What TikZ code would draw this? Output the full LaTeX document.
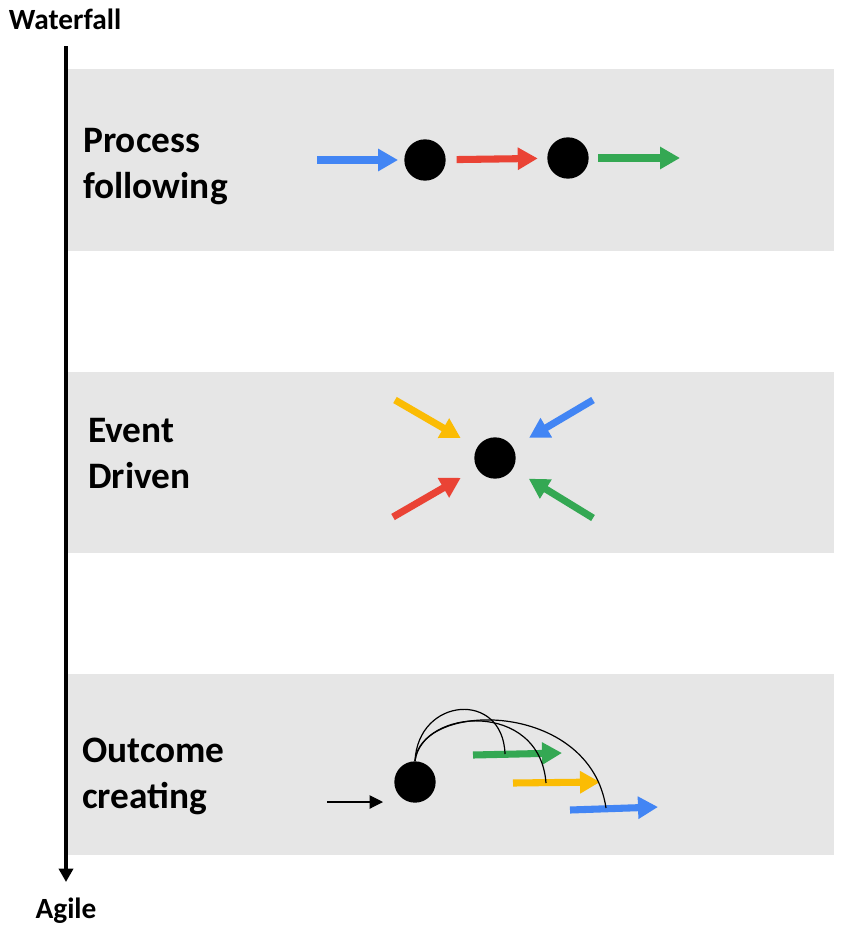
\documentclass[tikz,border=0pt]{standalone}
\usepackage{fontspec}
\setmainfont{Carlito}
\usetikzlibrary{arrows.meta}

\definecolor{gblue}{RGB}{66,133,244}
\definecolor{gred}{RGB}{234,67,53}
\definecolor{gyellow}{RGB}{251,188,4}
\definecolor{ggreen}{RGB}{52,168,83}
\definecolor{band}{RGB}{230,230,230}

\tikzset{
	flow/.style={line width=5.3pt, -{Triangle[length=15pt,width=16pt]}},
	dot/.style={circle, fill=black, inner sep=0pt, minimum size=31pt},
	lbl/.style={font=\bfseries\fontsize{28}{34.5}\selectfont, align=left, anchor=base west, inner sep=0pt},
	axislbl/.style={font=\bfseries\fontsize{22}{26}\selectfont, anchor=base, inner sep=0pt}
}

\begin{document}
\begin{tikzpicture}[x=0.75pt,y=-0.75pt]
	\useasboundingbox (0,0) rectangle (842,935);
	\fill[band] (68,69) rectangle (834,251);
	\fill[band] (68,372) rectangle (834,553);
	\fill[band] (68,674) rectangle (834,855);

	% axis
	\node[axislbl] (wf) at (65,29) {Waterfall};
	\node[axislbl] (ag) at (66,918) {Agile};
	\coordinate (top) at (66,46);
	\coordinate (bot) at (66,882);
	\draw[line width=3pt, -{Triangle[length=10pt,width=10.5pt]}] (top) -- (bot);

	% process following
	\node[lbl] (pf) at (83,198) {Process\\following};
	\node[dot] (p1) at (425,160) {};
	\node[dot] (p2) at (568,158) {};
	\coordinate (pin) at (317,160);
	\coordinate (pout) at (680,158);
	\draw[flow, gblue, shorten >=4.5pt] (pin) -- (p1);
	\draw[flow, gred, shorten <=8pt, shorten >=7pt] (p1) -- (p2);
	\draw[flow, ggreen, shorten <=7pt] (p2) -- (pout);

	% event driven
	\node[lbl] (ed) at (88,488) {Event\\Driven};
	\node[dot] (ev) at (495,458) {};
	\coordinate (eyl) at (395,400);
	\coordinate (ebl) at (593,400);
	\coordinate (erd) at (393,517);
	\coordinate (egr) at (593,518);
	\draw[flow, gyellow, shorten >=14pt] (eyl) -- (ev);
	\draw[flow, gblue, shorten >=14pt] (ebl) -- (ev);
	\draw[flow, gred, shorten >=14pt] (erd) -- (ev);
	\draw[flow, ggreen, shorten >=14pt] (egr) -- (ev);

	% outcome creating
	\node[lbl] (oc) at (82,808) {Outcome\\creating};
	\node[dot] (out) at (415,782) {};
	\coordinate (oin) at (327,802);
	\coordinate (oend) at (383,802);
	\draw[line width=0.8pt, -{Triangle[length=10pt,width=10pt]}] (oin) -- (oend);
	\coordinate (g1) at (473,755);
	\coordinate (g2) at (562,753);
	\coordinate (y1) at (513,783);
	\coordinate (y2) at (600,782);
	\coordinate (b1) at (570,810);
	\coordinate (b2) at (658,807);
	\draw[flow, ggreen] (g1) -- (g2);
	\draw[flow, gyellow] (y1) -- (y2);
	\draw[flow, gblue] (b1) -- (b2);
	\coordinate (gm) at (505,754);
	\coordinate (ym) at (546,783);
	\coordinate (bm) at (606,808);
	\draw[line width=0.9pt] (out.north) .. controls (418,697) and (503,690) .. (gm);
	\draw[line width=0.9pt] (out.north) .. controls (422,708) and (540,700) .. (ym);
	\draw[line width=0.9pt] (out.north) .. controls (420,700) and (590,700) .. (bm);
\end{tikzpicture}
\end{document}
